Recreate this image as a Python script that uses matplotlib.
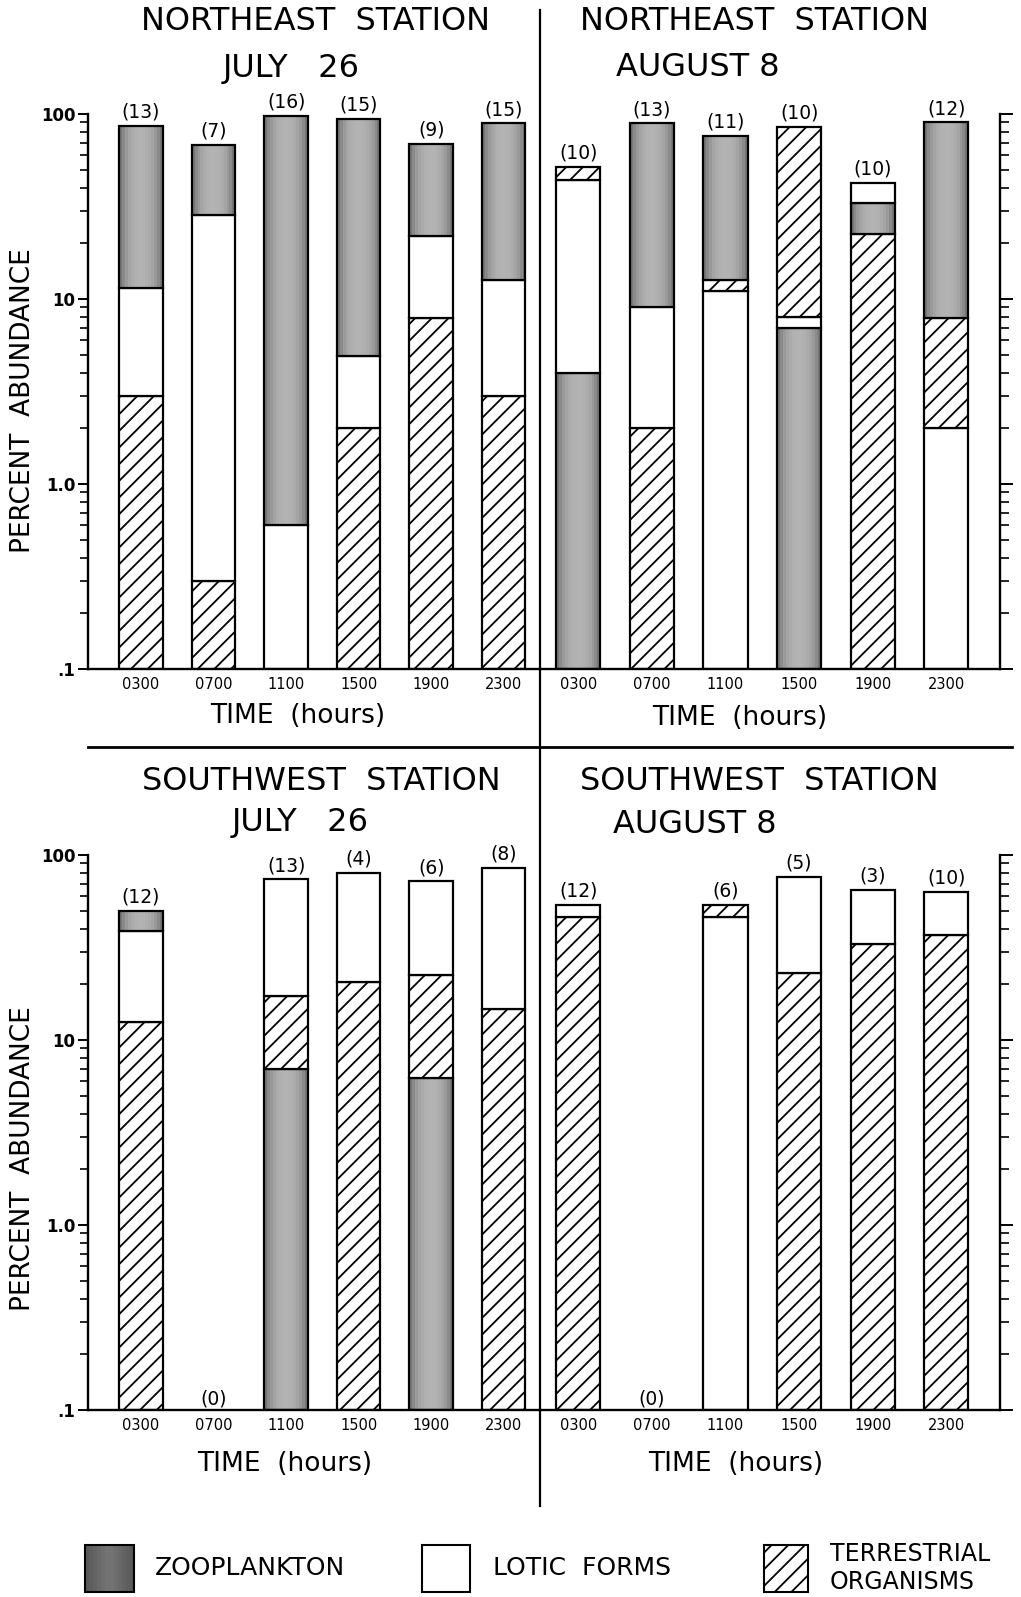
import numpy as np
import matplotlib
matplotlib.use("Agg")
import matplotlib.pyplot as plt
from matplotlib.patches import Rectangle
from matplotlib.lines import Line2D
from matplotlib.ticker import FixedLocator, FixedFormatter, NullFormatter

plt.rcParams['font.family'] = ['DejaVu Sans']
plt.rcParams['hatch.linewidth'] = 1.3

# ---------------- data ----------------
times = ["0300", "0700", "1100", "1500", "1900", "2300"]
ytick_vals = [0.1, 1, 10, 100]
ytick_labels = [".1", "1.0", "10", "100"]

# segment order from bottom (Z=zooplankton, L=lotic forms, T=terrestrial)
# and the cumulative upper boundary (percent abundance) of each segment
ne_jul_order = ["TLZ", "TLZ", "LZ", "TLZ", "TLZ", "TLZ"]
ne_jul_bounds = [[3.0, 11.5, 86], [0.30, 28.5, 68], [0.60, 98], [2.0, 4.9, 94],
                 [7.9, 22, 69], [3.0, 12.7, 89]]
ne_jul_n = [13, 7, 16, 15, 9, 15]

ne_aug_order = ["ZLT", "TLZ", "LTZ", "ZLT", "TZL", "LTZ"]
ne_aug_bounds = [[4.0, 44, 52], [2.0, 9.1, 89], [11.1, 12.7, 76], [7.0, 8.0, 85],
                 [22.4, 33, 42.6], [2.0, 7.9, 90]]
ne_aug_n = [10, 13, 11, 10, 10, 12]

sw_jul_order = ["TLZ", "", "ZTL", "TL", "ZTL", "TL"]
sw_jul_bounds = [[12.5, 38.7, 50], [], [7.0, 17.2, 74], [20.7, 80],
                 [6.2, 22.4, 72], [14.7, 85]]
sw_jul_n = [12, 0, 13, 4, 6, 8]

sw_aug_order = ["TL", "", "LT", "TL", "TL", "TL"]
sw_aug_bounds = [[46, 54], [], [46, 54], [23, 76], [33, 65], [37, 63]]
sw_aug_n = [12, 0, 6, 5, 3, 10]

legend_labels = ["ZOOPLANKTON", "LOTIC  FORMS", "TERRESTRIAL\nORGANISMS"]

# ---------------- figure ----------------
W, H = 1021, 1597
fig = plt.figure(figsize=(W / 100, H / 100), dpi=100)


def fx(px):
    return px / W


def fy(py):
    return 1 - py / H


def add_ax(l, r, t, b):
    return fig.add_axes([fx(l), fy(b), (r - l) / W, (b - t) / H])


EDGE = 1.6
BW = 0.6


def zoo_gray(t):
    return 0.42 + 0.28 * (1 - abs(2 * t - 1) ** 2.5)


def zoo_bar(ax, xc, lower, h, width=BW, nstrip=15):
    sw = width / nstrip
    for k in range(nstrip):
        g = zoo_gray((k + 0.5) / nstrip)
        ax.bar(xc - width / 2 + k * sw, h, bottom=lower, width=sw * 1.08,
               align='edge', color=(g, g, g), linewidth=0, antialiased=False)
    ax.bar(xc, h, bottom=lower, width=width, fill=False, edgecolor='black',
           linewidth=EDGE)


def draw_panel(ax, order, bounds, counts, side, xlim):
    ax.set_yscale('log')
    ax.set_ylim(0.1, 100)
    ax.set_xlim(*xlim)
    x = np.arange(len(times))
    for i in range(len(times)):
        lower = 0.1
        for cat, upper in zip(order[i], bounds[i]):
            h = upper - lower
            if cat == 'Z':
                zoo_bar(ax, x[i], lower, h)
            elif cat == 'L':
                ax.bar(x[i], h, bottom=lower, width=BW, color='white',
                       edgecolor='black', linewidth=EDGE)
            else:
                ax.bar(x[i], h, bottom=lower, width=BW, color='white',
                       edgecolor='black', hatch='//', linewidth=EDGE)
            lower = upper
        if bounds[i]:
            ax.annotate(f"({counts[i]})", (x[i], bounds[i][-1]), xytext=(0, 3),
                        textcoords='offset points', ha='center', va='bottom',
                        fontsize=13.5)
        else:
            ax.annotate(f"({counts[i]})", (x[i], 0.1), xytext=(0, 1),
                        textcoords='offset points', ha='center', va='bottom',
                        fontsize=13.5)

    for s in ax.spines.values():
        s.set_linewidth(1.7)
    ax.spines['top'].set_visible(False)
    ax.set_xticks(x, times)
    ax.tick_params(axis='x', length=0, pad=6, labelsize=10.5)
    ax.yaxis.set_major_locator(FixedLocator(ytick_vals))
    ax.yaxis.set_minor_locator(FixedLocator(
        [m * d for d in (0.1, 1, 10) for m in range(2, 10)]))
    ax.yaxis.set_minor_formatter(NullFormatter())
    if side == 'left':
        ax.spines['right'].set_visible(False)
        ax.yaxis.set_major_formatter(FixedFormatter(ytick_labels))
        ax.tick_params(axis='y', which='major', length=7, width=1.4, pad=2,
                       labelsize=12)
        ax.tick_params(axis='y', which='minor', length=5.5, width=1.2)
        for lab in ax.get_yticklabels():
            lab.set_fontweight('bold')
    else:
        ax.spines['left'].set_visible(False)
        ax.yaxis.tick_right()
        ax.yaxis.set_major_formatter(NullFormatter())
        ax.tick_params(axis='y', which='major', length=9.5, width=1.4)
        ax.tick_params(axis='y', which='minor', length=6.5, width=1.2)
    ax.patch.set_alpha(0)


xlim_left = (-0.73, 5.50)
xlim_right = (-0.52, 5.73)

ax1 = add_ax(88, 540, 114, 669)
draw_panel(ax1, ne_jul_order, ne_jul_bounds, ne_jul_n, 'left', xlim_left)
ax2 = add_ax(540, 1000, 114, 669)
draw_panel(ax2, ne_aug_order, ne_aug_bounds, ne_aug_n, 'right', xlim_right)
ax3 = add_ax(88, 540, 855, 1410)
draw_panel(ax3, sw_jul_order, sw_jul_bounds, sw_jul_n, 'left', xlim_left)
ax4 = add_ax(540, 1000, 855, 1410)
draw_panel(ax4, sw_aug_order, sw_aug_bounds, sw_aug_n, 'right', xlim_right)

# titles
tfs = 23
fig.text(fx(315), fy(22), "NORTHEAST  STATION", ha='center', va='center', fontsize=tfs)
fig.text(fx(291), fy(68), "JULY   26", ha='center', va='center', fontsize=tfs)
fig.text(fx(754), fy(22), "NORTHEAST  STATION", ha='center', va='center', fontsize=tfs)
fig.text(fx(698), fy(68), "AUGUST 8", ha='center', va='center', fontsize=tfs)
fig.text(fx(321), fy(781), "SOUTHWEST  STATION", ha='center', va='center', fontsize=tfs)
fig.text(fx(300), fy(823), "JULY   26", ha='center', va='center', fontsize=tfs)
fig.text(fx(759), fy(781), "SOUTHWEST  STATION", ha='center', va='center', fontsize=tfs)
fig.text(fx(695), fy(825), "AUGUST 8", ha='center', va='center', fontsize=tfs)

# axis titles
for (xc, yc) in [(298, 716), (740, 718), (285, 1464), (736, 1464)]:
    fig.text(fx(xc), fy(yc), "TIME  (hours)", ha='center', va='center', fontsize=19)
for yc in (401, 1159):
    fig.text(fx(23), fy(yc), "PERCENT  ABUNDANCE", ha='center', va='center',
             rotation=90, fontsize=19)

# dividers
fig.add_artist(Line2D([fx(540), fx(540)], [fy(10), fy(1506)], color='black', lw=1.6))
fig.add_artist(Line2D([fx(88), fx(1012)], [fy(747), fy(747)], color='black', lw=2.0))

# legend
box_y0, box_y1 = 1545, 1592
zx0, zx1 = 85, 134
n = 12
for k in range(n):
    t = (k + 0.5) / n
    g = 0.34 + 0.12 * (1 - abs(2 * t - 1))
    fig.add_artist(Rectangle((fx(zx0 + k * (zx1 - zx0) / n), fy(box_y1)),
                             (zx1 - zx0) / n / W * 1.08, (box_y1 - box_y0) / H,
                             transform=fig.transFigure, facecolor=(g, g, g),
                             linewidth=0, antialiased=False))
fig.add_artist(Rectangle((fx(zx0), fy(box_y1)), (zx1 - zx0) / W, (box_y1 - box_y0) / H,
                         transform=fig.transFigure, fill=False, edgecolor='black', lw=1.5))
fig.add_artist(Rectangle((fx(422), fy(box_y1)), 48 / W, (box_y1 - box_y0) / H,
                         transform=fig.transFigure, facecolor='white',
                         edgecolor='black', lw=1.5))
fig.add_artist(Rectangle((fx(764), fy(box_y1)), 44 / W, (box_y1 - box_y0) / H,
                         transform=fig.transFigure, facecolor='white',
                         edgecolor='black', lw=1.5, hatch='//'))
fig.text(fx(155), fy(1568), legend_labels[0], ha='left', va='center', fontsize=18)
fig.text(fx(493), fy(1568), legend_labels[1], ha='left', va='center', fontsize=18)
fig.text(fx(830), fy(1568), legend_labels[2], ha='left', va='center', fontsize=17,
         linespacing=1.25)

fig.savefig("out.png", dpi=100)
